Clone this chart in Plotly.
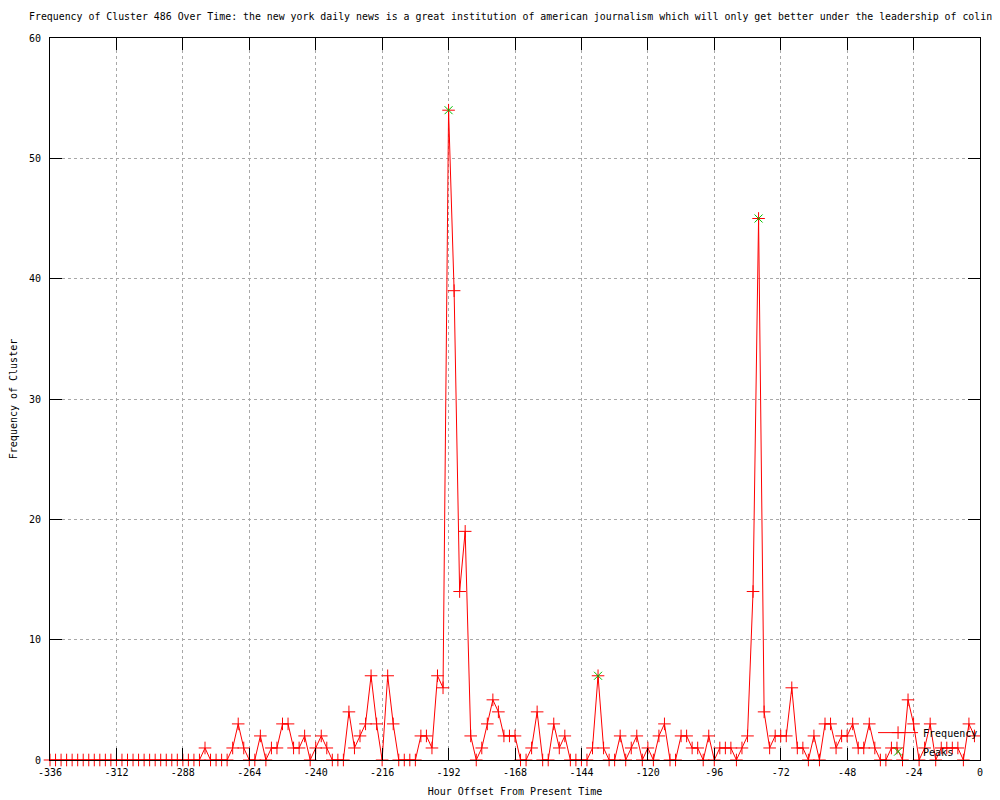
import plotly.graph_objects as go

# ---- data ----
hours = list(range(-336, 0, 2))
frequency = [
    0, 0, 0, 0, 0, 0, 0, 0, 0, 0, 0, 0, 0, 0, 0, 0, 0, 0, 0, 0, 0, 0, 0, 0, 0, 0, 0, 0,
    1, 0, 0, 0, 0, 1, 3, 1, 0, 0, 2, 0,
    1, 1, 3, 3, 1, 1, 2, 0, 1, 2,
    1, 0, 0, 0, 4, 1, 2, 3, 7, 3,
    0, 7, 3, 0, 0, 0, 0, 2, 2, 1,
    7, 6, 54, 39, 14, 19, 2, 0, 1, 3,
    5, 4, 2, 2, 2, 0, 0, 1, 4, 0,
    0, 3, 1, 2, 0, 0, 0, 0, 1, 7,
    1, 0, 0, 2, 0, 1, 2, 0, 1, 0,
    2, 3, 0, 0, 2, 2, 1, 1, 0, 2,
    0, 1, 1, 1, 0, 1, 2, 14, 45, 4,
    1, 2, 2, 2, 6, 1, 1, 0, 2, 0,
    3, 3, 1, 2, 2, 3, 1, 1, 3, 1,
    0, 0, 1, 1, 0, 5, 3, 0, 1, 3,
    0, 1, 1, 1, 1, 0, 3, 2,
]
peak_hours = [-192, -138, -80]
peak_values = [54, 7, 45]

x_tick_vals = [-336, -312, -288, -264, -240, -216, -192, -168, -144, -120, -96, -72, -48, -24, 0]
x_tick_text = ["-336", "-312", "-288", "-264", "-240", "-216", "-192", "-168", "-144", "-120",
               "-96", "-72", "-48", "-24", "0"]
y_tick_vals = [0, 10, 20, 30, 40, 50, 60]
y_tick_text = ["0", "10", "20", "30", "40", "50", "60"]

title_text = ("Frequency of Cluster 486 Over Time: the new york daily news is a great institution "
              "of american journalism which will only get better under the leadership of colin")

FONT = "DejaVu Sans Mono"

fig = go.Figure()
fig.add_trace(go.Scatter(
    x=hours, y=frequency, mode="lines+markers", name="Frequency",
    line=dict(color="#ff0000", width=1),
    marker=dict(symbol="cross-thin", size=9, color="#ff0000",
                line=dict(color="#ff0000", width=1)),
    cliponaxis=False,
))
fig.add_trace(go.Scatter(
    x=peak_hours, y=peak_values, mode="markers", name="Peaks",
    marker=dict(symbol="x-thin", size=8, color="#00c000",
                line=dict(color="#00c000", width=1)),
    cliponaxis=False,
))

axis_common = dict(
    showline=True, linecolor="black", linewidth=1, mirror="ticks",
    ticks="inside", tickcolor="black", tickwidth=1, ticklen=12,
    showgrid=True, gridcolor="#a8a8a8", gridwidth=1, griddash="dot",
    zeroline=False, automargin=False,
    tickfont=dict(family=FONT, size=10, color="black"),
)

# the page places the figure 8px from the top-left corner, so the canvas is 992x792
fig.update_layout(
    width=992, height=792,
    paper_bgcolor="white", plot_bgcolor="white",
    margin=dict(l=42, r=20, t=30, b=40),
    title=dict(text=title_text, x=21 / 992, xanchor="left", xref="container",
               y=1 - 9 / 792, yanchor="middle", yref="container",
               font=dict(family=FONT, size=9.9, color="black")),
    xaxis=dict(range=[-336, 0], tickmode="array", tickvals=x_tick_vals, ticktext=x_tick_text,
               ticklabelstandoff=3,
               title=dict(text="Hour Offset From Present Time",
                          font=dict(family=FONT, size=10, color="black"), standoff=10),
               **axis_common),
    yaxis=dict(range=[0, 60], tickmode="array", tickvals=y_tick_vals, ticktext=y_tick_text,
               ticklabelstandoff=6,
               title=dict(text="Frequency of Cluster",
                          font=dict(family=FONT, size=10, color="black"), standoff=12),
               **axis_common),
    showlegend=True,
    legend=dict(x=0.885, y=0.058, xanchor="left", yanchor="top",
                bgcolor="rgba(0,0,0,0)", borderwidth=0,
                font=dict(family=FONT, size=10, color="black"),
                itemwidth=40, tracegroupgap=0),
)

fig.write_html("out.html")
